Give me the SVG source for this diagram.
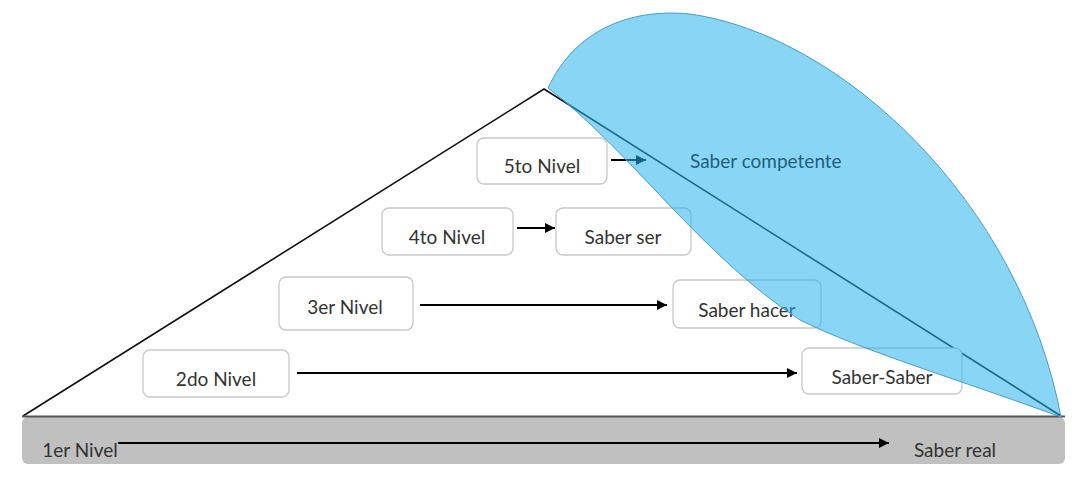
<svg xmlns="http://www.w3.org/2000/svg" width="1087" height="484" viewBox="0 0 1087 484">
  <defs>
    <marker id="ah" viewBox="0 0 10 10" refX="10" refY="5" markerWidth="10" markerHeight="10" markerUnits="userSpaceOnUse" orient="auto">
      <path d="M0,0 L10,5 L0,10 z" fill="#000"/>
    </marker>
    <style>
      .box { fill: #ffffff; stroke: #c8c8c8; stroke-width: 1.3; }
      .lbl { font-family: Lato, "Liberation Sans", sans-serif; font-size: 19px; fill: #333333; text-anchor: middle; }
      .conn { stroke: #000; stroke-width: 2; fill: none; marker-end: url(#ah); }
    </style>
  </defs>
  <rect width="1087" height="484" fill="#ffffff"/>

  <g id="base-bar">
    <rect x="22" y="417" width="1043" height="47" rx="6" fill="#c0c0c0"/>
  </g>

  <g id="pyramid">
    <polyline points="23,416 544,89 1061,416" fill="none" stroke="#111" stroke-width="1.6"/>
    <line x1="22" y1="416.5" x2="1065" y2="416.5" stroke="#555" stroke-width="2.2"/>
  </g>

  <g id="node-5to">
    <rect class="box" x="477" y="138" width="130" height="46" rx="7"/>
    <text class="lbl" x="542" y="173">5to Nivel</text>
  </g>
  <g id="node-4to">
    <rect class="box" x="382" y="208" width="131" height="47" rx="7"/>
    <text class="lbl" x="447" y="244">4to Nivel</text>
  </g>
  <g id="node-saber-ser">
    <rect class="box" x="556" y="208" width="135" height="47" rx="7"/>
    <text class="lbl" x="623" y="244">Saber ser</text>
  </g>
  <g id="node-3er">
    <rect class="box" x="279" y="277" width="134" height="53" rx="7"/>
    <text class="lbl" x="345" y="314">3er Nivel</text>
  </g>
  <g id="node-saber-hacer">
    <rect class="box" x="673" y="280" width="148" height="48" rx="7"/>
    <text class="lbl" x="747" y="317">Saber hacer</text>
  </g>
  <g id="node-2do">
    <rect class="box" x="143" y="350" width="146" height="47" rx="7"/>
    <text class="lbl" x="216" y="386">2do Nivel</text>
  </g>
  <g id="node-saber-saber">
    <rect class="box" x="802" y="348" width="160" height="46" rx="7"/>
    <text class="lbl" x="882" y="384">Saber-Saber</text>
  </g>
  <g id="node-1er">
    <text class="lbl" x="80" y="457">1er Nivel</text>
  </g>
  <g id="node-saber-real">
    <text class="lbl" x="955" y="457">Saber real</text>
  </g>

  <g id="connectors">
    <line class="conn" x1="611" y1="160" x2="646" y2="160"/>
    <line class="conn" x1="517" y1="228" x2="555" y2="228"/>
    <line class="conn" x1="420" y1="305" x2="667" y2="305"/>
    <line class="conn" x1="297" y1="373" x2="797" y2="373" stroke-width="2.6"/>
    <line class="conn" x1="118" y1="443" x2="889" y2="443"/>
  </g>

  <g id="saber-competente">
    <path d="M548,88 C575,30 630,8 690,14 C840,35 1020,200 1061,417 C960,380 860,350 800,320 C700,255 630,150 548,88 Z" fill="#28B2ED" fill-opacity="0.55" stroke="#4a9cc2" stroke-width="1"/>
    <text x="690" y="168" font-family="Lato, 'Liberation Sans', sans-serif" font-size="19px" fill="#1f5f80">Saber competente</text>
  </g>
</svg>
